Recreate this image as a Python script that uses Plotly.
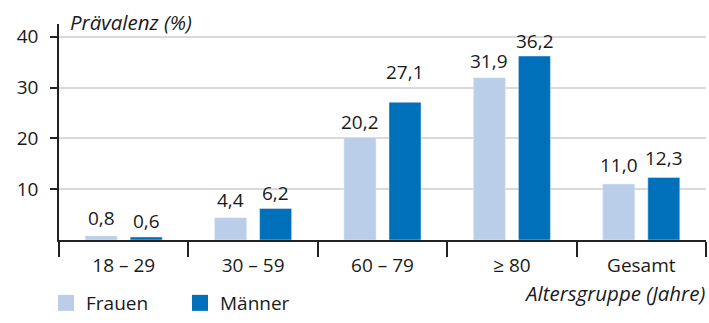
import plotly.graph_objects as go

# Prevalence by age group, women vs. men (values in percent)
age_groups = ["18 \u2013 29", "30 \u2013 59", "60 \u2013 79", "\u2265 80", "Gesamt"]
frauen = [0.8, 4.4, 20.2, 31.9, 11.0]
maenner = [0.6, 6.2, 27.1, 36.2, 12.3]

# extra lift (px) of each value label above its bar
lift_frauen = [9, 9, 6, 8, 10]
lift_maenner = [7, 6, 21, 6, 10]

LIGHT = "#BACEEA"
DARK = "#0070BA"
FONT = "Open Sans"
INK = "#1a1a1a"

fig = go.Figure()
fig.add_trace(go.Bar(x=age_groups, y=frauen, name="Frauen", marker_color=LIGHT,
                     showlegend=False, hoverinfo="skip"))
fig.add_trace(go.Bar(x=age_groups, y=maenner, name="Männer", marker_color=DARK,
                     showlegend=False, hoverinfo="skip"))

# legend entries with large square keys
for name, col in [("Frauen", LIGHT), ("Männer", DARK)]:
    fig.add_trace(go.Scatter(x=[None], y=[None], mode="markers", name=name,
                             marker=dict(symbol="square", size=16, color=col)))

# value labels above the bars
annotations = []
for vals, lifts, off in [(frauen, lift_frauen, -0.175), (maenner, lift_maenner, 0.175)]:
    for i, (v, lf) in enumerate(zip(vals, lifts)):
        annotations.append(dict(
            x=i + off, y=v, xref="x", yref="y",
            text=f"{v:.1f}".replace(".", ","), showarrow=False,
            yanchor="bottom", xanchor="center", yshift=lf - 6,
            font=dict(family=FONT, size=19, color=INK)))

annotations.append(dict(x=0.0144, y=1.007, xref="paper", yref="paper",
                        text="<i>Prävalenz (%)</i>", showarrow=False,
                        xanchor="left", yanchor="middle",
                        font=dict(family=FONT, size=20.5, color=INK)))
annotations.append(dict(x=1.001, y=-0.245, xref="paper", yref="paper",
                        text="<i>Altersgruppe (Jahre)</i>", showarrow=False,
                        xanchor="right", yanchor="middle",
                        font=dict(family=FONT, size=20.5, color=INK)))

fig.update_layout(
    width=709, height=323,
    margin=dict(l=58.7, r=2.7, t=23.5, b=82.7),
    paper_bgcolor="white", plot_bgcolor="white",
    barmode="group", bargap=0.304, bargroupgap=0.289,
    font=dict(family=FONT, size=19, color=INK),
    annotations=annotations,
    showlegend=True,
    legend=dict(orientation="h", xref="container", x=46 / 709, xanchor="left",
                yref="container", y=1 / 323, yanchor="bottom",
                entrywidth=89, entrywidthmode="pixels",
                font=dict(family=FONT, size=19, color=INK),
                bgcolor="rgba(0,0,0,0)"),
)

fig.update_xaxes(
    type="category", range=[-0.5, 4.5],
    showline=True, linecolor="#222", linewidth=1.5,
    ticks="outside", tickson="boundaries", ticklen=15, tickwidth=1.5, tickcolor="#222",
    ticklabelstandoff=7,
    showgrid=False, zeroline=False,
)
fig.update_yaxes(
    range=[0, 42.5], tickvals=[10, 20, 30, 40],
    showline=True, linecolor="#222", linewidth=1.5,
    ticks="outside", ticklen=7, tickwidth=1.5, tickcolor="#222",
    ticklabelstandoff=8,
    showgrid=True, gridcolor="#D9D9D9", gridwidth=1.5, zeroline=False,
)

fig.write_html("out.html")
